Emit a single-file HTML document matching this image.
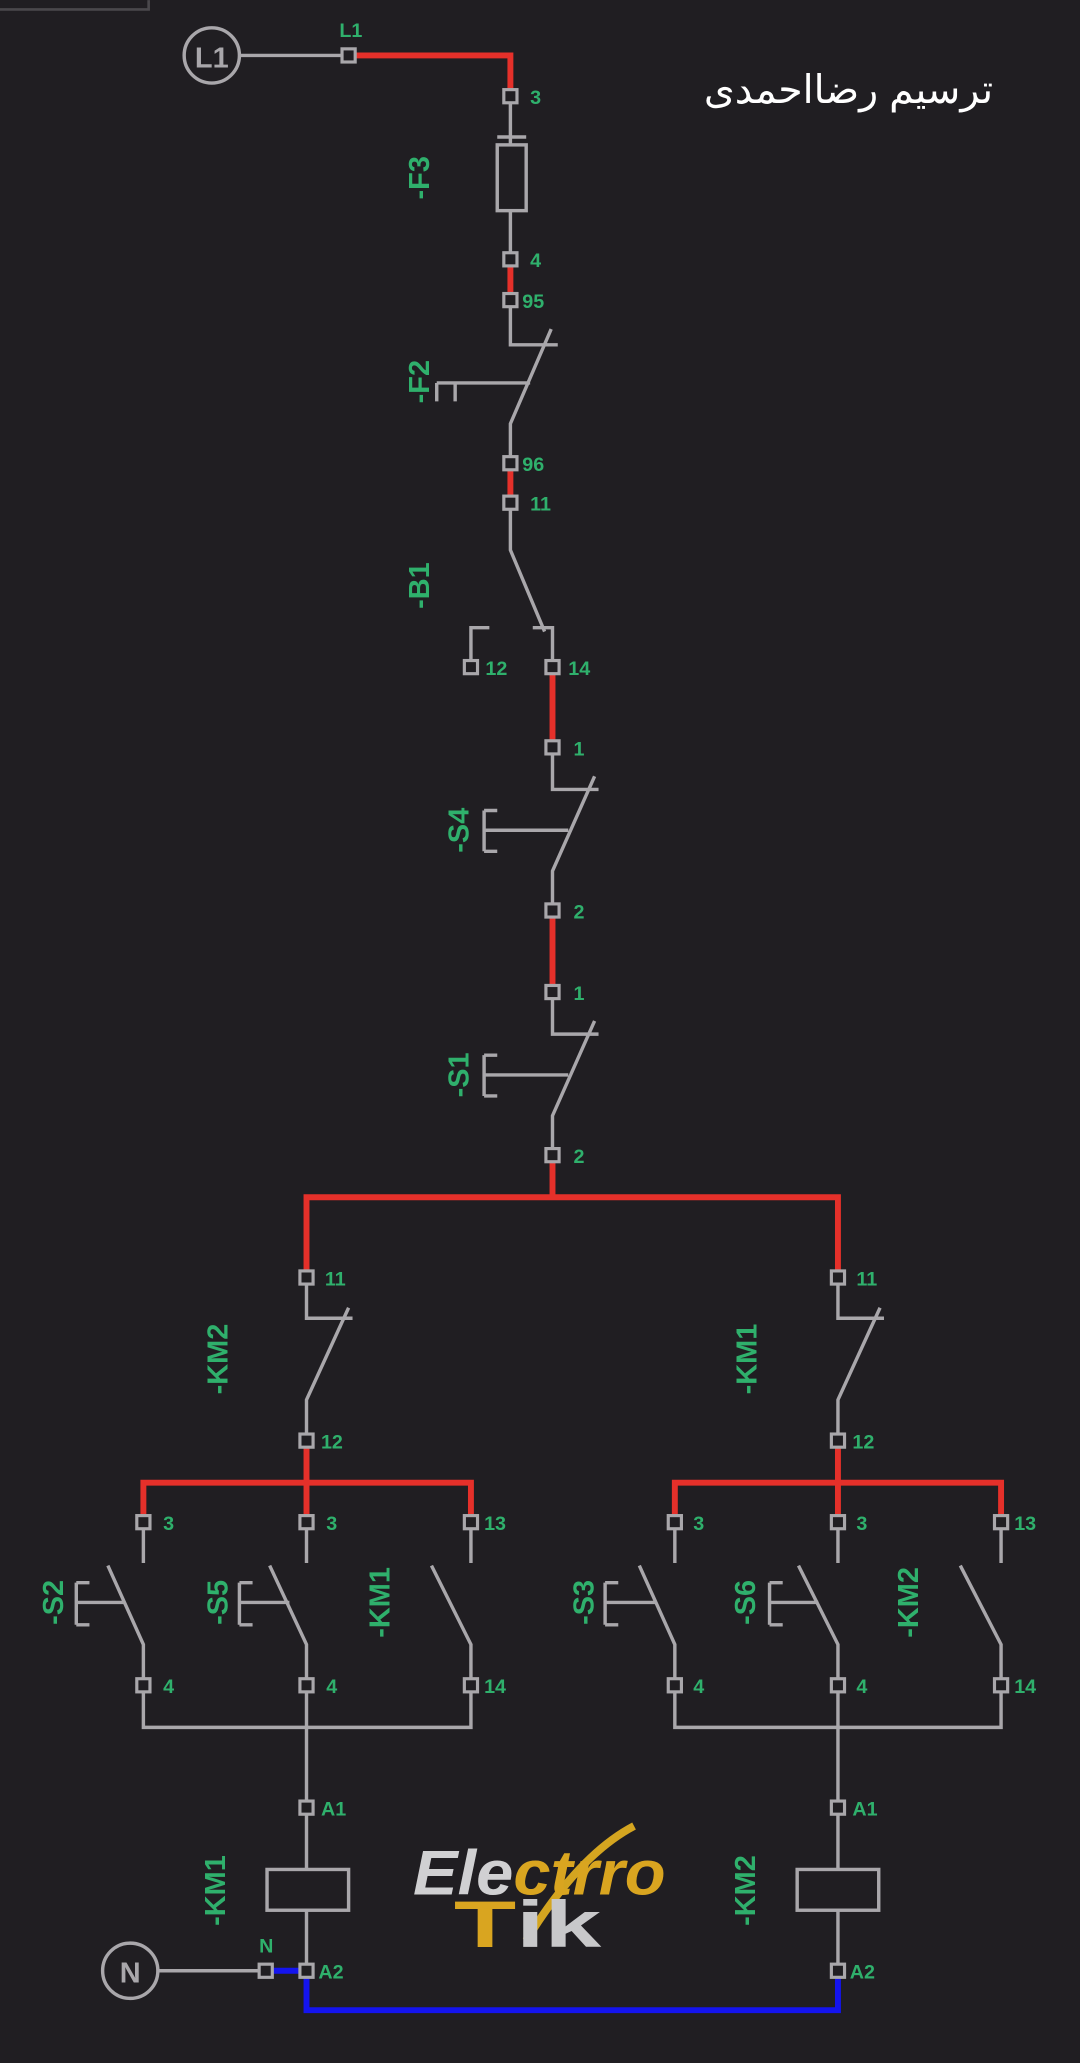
<!DOCTYPE html>
<html><head><meta charset="utf-8"><style>
html,body{margin:0;padding:0;background:#201e22;}
svg{display:block}
.g{stroke:#a9a7ab;stroke-width:2.6;fill:none}
.r{stroke:#e5302a;stroke-width:4.5;fill:none}
.b{stroke:#1414ee;stroke-width:4.5;fill:none}
.t{fill:#201e22;stroke:#a9a7ab;stroke-width:2.4}
.l{fill:#2fb06c;font-family:"Liberation Sans",sans-serif;font-weight:bold;font-size:15px}
.n{fill:#2fb06c;font-family:"Liberation Sans",sans-serif;font-weight:bold;font-size:22px;text-anchor:middle}
</style></head><body>
<svg width="1080" height="2063" viewBox="0 0 821 1568" xmlns="http://www.w3.org/2000/svg">
<rect x="0" y="0" width="821" height="1568" fill="#201e22"/>
<path d="M0 7 H113 V0" stroke="#4a484c" stroke-width="2" fill="none"/>
<text x="645" y="78" fill="#fff" font-size="30" text-anchor="middle" font-family="'Liberation Sans','DejaVu Sans',sans-serif" direction="rtl">ترسیم رضااحمدی</text>

<circle cx="161" cy="42" r="21" class="g"/>
<text x="161" y="51" text-anchor="middle" fill="#a9a7ab" font-family="'Liberation Sans',sans-serif" font-weight="bold" font-size="22">L1</text>
<path class="g" d="M182 42 H265"/>
<path class="g" d="M388 73 V110 M378 104 H400 M388 160 V197"/>
<rect x="378" y="110" width="22" height="50" class="g"/>
<path class="g" d="M388 228 V262 H424 M419 250 L388 322 V352 M332 291 H403 M332 291 V305 M346 291 V305"/>
<path class="g" d="M388 382 V418 L414 480 M405 477 H420 V507 M372 477 H358 V507"/>
<path class="g" d="M420 568 V600 H455 M452 590 L420 662 V692 M368 631 H432 M368 616 V647 M368 616 H378 M368 647 H378"/>
<path class="g" d="M420 754 V786 H455 M452 776 L420 848 V878 M368 817 H432 M368 802 V833 M368 802 H378 M368 833 H378"/>
<path class="r" d="M265 42 H388 V73 M388 197 V228 M388 352 V382 M420 507 V568 M420 692 V754 M420 878 V910 M233 971 V910 H637 V971"/>
<path class="g" d="M233 971 V1002 H268 M265 994 L233 1064 V1095"/>
<path class="g" d="M637 971 V1002 H672 M669 994 L637 1064 V1095"/>
<path class="r" d="M233 1095 V1157 M109 1157 V1127 H358 V1157 M637 1095 V1157 M513 1157 V1127 H761 V1157"/>
<g class="g">
<path d="M109 1157 V1188 M82 1190 L109 1250 V1313 H358 V1250 L328 1190 M358 1157 V1188 M233 1157 V1188 M205 1190 L233 1250 V1421 M233 1452 V1498"/>
<path d="M58 1218 H95 M58 1203 V1235 M58 1203 H68 M58 1235 H68"/>
<path d="M182 1218 H220 M182 1203 V1235 M182 1203 H192 M182 1235 H192"/>
<rect x="203" y="1421" width="62" height="31"/>
<path d="M513 1157 V1188 M486 1190 L513 1250 V1313 H761 V1250 L730 1190 M761 1157 V1188 M637 1157 V1188 M607 1190 L637 1250 V1421 M637 1452 V1498"/>
<path d="M460 1218 H498 M460 1203 V1235 M460 1203 H470 M460 1235 H470"/>
<path d="M585 1218 H622 M585 1203 V1235 M585 1203 H595 M585 1235 H595"/>
<rect x="606" y="1421" width="62" height="31"/>
<circle cx="99" cy="1498" r="21"/>
<path d="M120 1498 H202"/>
</g>
<text x="99" y="1507" text-anchor="middle" fill="#a9a7ab" font-family="'Liberation Sans',sans-serif" font-weight="bold" font-size="22">N</text>
<path class="b" d="M202 1498 H233 V1528 H637 V1498"/>

<g class="t">
<rect x="260" y="37" width="10" height="10"/>
<rect x="383" y="68" width="10" height="10"/>
<rect x="383" y="192" width="10" height="10"/>
<rect x="383" y="223" width="10" height="10"/>
<rect x="383" y="347" width="10" height="10"/>
<rect x="383" y="377" width="10" height="10"/>
<rect x="353" y="502" width="10" height="10"/>
<rect x="415" y="502" width="10" height="10"/>
<rect x="415" y="563" width="10" height="10"/>
<rect x="415" y="687" width="10" height="10"/>
<rect x="415" y="749" width="10" height="10"/>
<rect x="415" y="873" width="10" height="10"/>
<rect x="228" y="966" width="10" height="10"/>
<rect x="632" y="966" width="10" height="10"/>
<rect x="228" y="1090" width="10" height="10"/>
<rect x="632" y="1090" width="10" height="10"/>
<rect x="104" y="1152" width="10" height="10"/>
<rect x="228" y="1152" width="10" height="10"/>
<rect x="353" y="1152" width="10" height="10"/>
<rect x="508" y="1152" width="10" height="10"/>
<rect x="632" y="1152" width="10" height="10"/>
<rect x="756" y="1152" width="10" height="10"/>
<rect x="104" y="1276" width="10" height="10"/>
<rect x="228" y="1276" width="10" height="10"/>
<rect x="353" y="1276" width="10" height="10"/>
<rect x="508" y="1276" width="10" height="10"/>
<rect x="632" y="1276" width="10" height="10"/>
<rect x="756" y="1276" width="10" height="10"/>
<rect x="228" y="1369" width="10" height="10"/>
<rect x="632" y="1369" width="10" height="10"/>
<rect x="197" y="1493" width="10" height="10"/>
<rect x="228" y="1493" width="10" height="10"/>
<rect x="632" y="1493" width="10" height="10"/>
</g>

<g class="l">
<text x="258" y="28">L1</text>
<text x="403" y="79">3</text>
<text x="403" y="203">4</text>
<text x="397" y="234">95</text>
<text x="397" y="358">96</text>
<text x="403" y="388">11</text>
<text x="369" y="513">12</text>
<text x="432" y="513">14</text>
<text x="436" y="574">1</text>
<text x="436" y="698">2</text>
<text x="436" y="760">1</text>
<text x="436" y="884">2</text>
<text x="247" y="977">11</text>
<text x="651" y="977">11</text>
<text x="244" y="1101">12</text>
<text x="648" y="1101">12</text>
<text x="124" y="1163">3</text>
<text x="248" y="1163">3</text>
<text x="368" y="1163">13</text>
<text x="527" y="1163">3</text>
<text x="651" y="1163">3</text>
<text x="771" y="1163">13</text>
<text x="124" y="1287">4</text>
<text x="248" y="1287">4</text>
<text x="368" y="1287">14</text>
<text x="527" y="1287">4</text>
<text x="651" y="1287">4</text>
<text x="771" y="1287">14</text>
<text x="244" y="1380">A1</text>
<text x="648" y="1380">A1</text>
<text x="197" y="1484">N</text>
<text x="242" y="1504">A2</text>
<text x="646" y="1504">A2</text>
</g>

<g class="n">
<text transform="translate(326,135) rotate(-90)">-F3</text>
<text transform="translate(326,290) rotate(-90)">-F2</text>
<text transform="translate(326,445) rotate(-90)">-B1</text>
<text transform="translate(356,631) rotate(-90)">-S4</text>
<text transform="translate(356,817) rotate(-90)">-S1</text>
<text transform="translate(173,1033) rotate(-90)">-KM2</text>
<text transform="translate(575,1033) rotate(-90)">-KM1</text>
<text transform="translate(48,1218) rotate(-90)">-S2</text>
<text transform="translate(173,1218) rotate(-90)">-S5</text>
<text transform="translate(296,1218) rotate(-90)">-KM1</text>
<text transform="translate(451,1218) rotate(-90)">-S3</text>
<text transform="translate(574,1218) rotate(-90)">-S6</text>
<text transform="translate(698,1218) rotate(-90)">-KM2</text>
<text transform="translate(171,1437) rotate(-90)">-KM1</text>
<text transform="translate(574,1437) rotate(-90)">-KM2</text>
</g>

<path d="M400 1475 Q440 1410 482 1388" stroke="#d4a520" stroke-width="6" fill="none"/>
<text x="314" y="1440" textLength="192" lengthAdjust="spacingAndGlyphs" font-family="'Liberation Sans',sans-serif" font-weight="bold" font-style="italic" font-size="48" fill="#d0d0d2">Ele<tspan fill="#d9a520">ctrro</tspan></text>
<text x="345" y="1480" textLength="112" lengthAdjust="spacingAndGlyphs" font-family="'Liberation Sans',sans-serif" font-weight="bold" font-size="50" fill="#d9a520">T<tspan fill="#c8c8ca">ik</tspan></text>
</svg>
</body></html>
